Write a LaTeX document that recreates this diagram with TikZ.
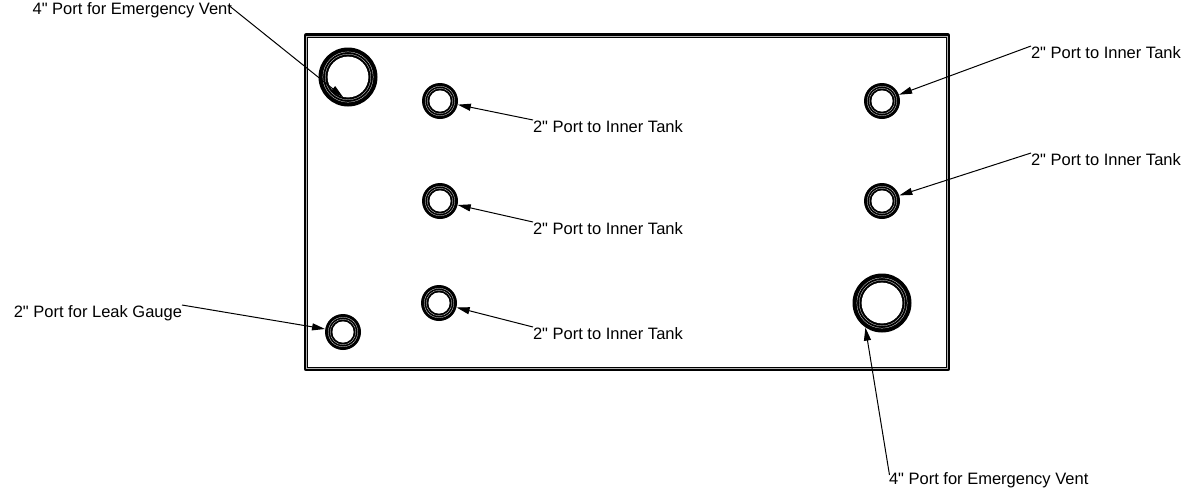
\documentclass[tikz,border=0pt]{standalone}
\usepackage{fontspec}
\setmainfont[Ligatures=TeXOff]{Liberation Sans}
\usetikzlibrary{arrows.meta}
\tikzset{
  x=1pt,y=-1pt,
  label text/.style={inner sep=0pt,outer sep=0pt,font=\fontsize{16.5}{17}\selectfont,text height=12pt,text depth=0pt},
  leader/.style={line width=1pt,black,-{Triangle[length=13pt,width=7pt]}},
  small port/.style={circle,fill=black,inner sep=0pt,minimum size=36pt},
  big port/.style={circle,fill=black,inner sep=0pt,minimum size=59pt},
  ring/.style={white,line width=0.25pt},
  plate/.style={black,line width=4.6pt,line join=round},
  plate core/.style={white!70!black,line width=0.6pt,line join=miter}
}
\newcommand{\smallport}[2]{
  \node[small port] (#1) at (#2) {};
  \draw[ring] (#1.center) circle[radius=14.8];
  \draw[ring] (#1.center) circle[radius=12.8];
  \fill[white] (#1.center) circle[radius=10.6];
}
\newcommand{\bigport}[2]{
  \node[big port] (#1) at (#2) {};
  \draw[ring] (#1.center) circle[radius=25.2];
  \draw[ring] (#1.center) circle[radius=22.8];
  \fill[white] (#1.center) circle[radius=20.4];
}
\begin{document}
\begin{tikzpicture}
\useasboundingbox (0,0) rectangle (1184,491);
\fill[white] (0,0) rectangle (1184,491);
% plate
\draw[plate] (306,35.5) rectangle (948,369);
\draw[plate core] (306.5,36.5) rectangle (947.5,368);
% ports
\bigport{ventA}{348,77}
\bigport{ventB}{882,303}
\smallport{inA}{440,101}
\smallport{inB}{440,201}
\smallport{inC}{439,303}
\smallport{inD}{882,101}
\smallport{inE}{882,201}
\smallport{leak}{343,332}
% labels
\node[label text,anchor=north east] (lvA) at (232,2) {4" Port for Emergency Vent};
\node[label text,anchor=north east] (lleak) at (182,305) {2" Port for Leak Gauge};
\node[label text,anchor=north west] (lA) at (533,120) {2" Port to Inner Tank};
\node[label text,anchor=north west] (lB) at (533,222) {2" Port to Inner Tank};
\node[label text,anchor=north west] (lC) at (533,327) {2" Port to Inner Tank};
\node[label text,anchor=north west] (lD) at (1031,46) {2" Port to Inner Tank};
\node[label text,anchor=north west] (lE) at (1031,153) {2" Port to Inner Tank};
\node[label text,anchor=north west] (lvB) at (889,472) {4" Port for Emergency Vent};
% leaders
\coordinate (tipA) at (343,97);
\draw[leader,shorten <=-4pt] (lvA.east) -- (tipA);
\draw[leader] (lleak.north east) -- (leak);
\draw[leader] (lA.north west) -- (inA);
\draw[leader] (lB.north west) -- (inB);
\draw[leader] (lC.north west) -- (inC);
\draw[leader] (lD.north west) -- (inD);
\draw[leader] (lE.north west) -- (inE);
\draw[leader,shorten <=-3pt] (lvB.north west) -- (ventB.-124);
\end{tikzpicture}
\end{document}
